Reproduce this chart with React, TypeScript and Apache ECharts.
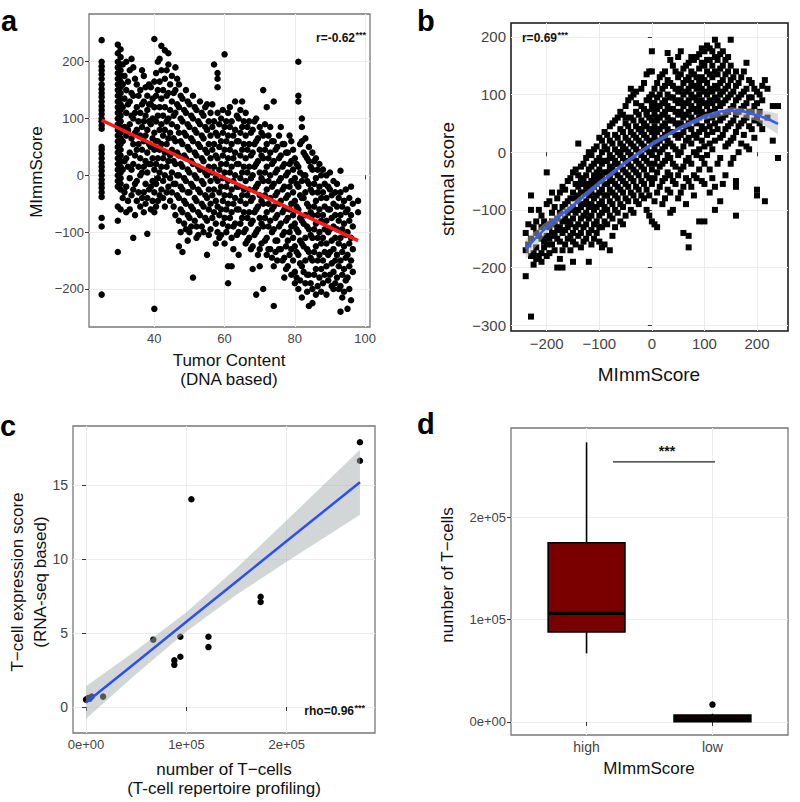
import React, { useEffect, useRef } from "react";
import * as echarts from "echarts";

// Panel a: Tumor content (x) vs MImmScore (y), grouped by x value
const panelAColumns: [number, number[]][] = [
  [25, [238, 200, 192, 185, 178, 170, 160, 152, 145, 138, 130, 122, 115, 108, 100, 95, 88, 82, 50, 45, 38, 30, 22, 15, 8, 0, -8, -15, -22, -30, -38, -75, -90, -210]],
  [29.6, [230, 215, 200, 190, 180, 170, 160, 150, 140, 130, 120, 110, 100, 90, 80, 70, 60, 50, 40, 30, 20, 10, 0, -10, -20, -55, -80, -135]],
  [30.4, [222, 208, 195, 185, 175, 165, 155, 145, 135, 125, 115, 105, 95, 85, 75, 65, 55, 45, 35, 25, 15, 5, -5, -15, -25, -60]],
  [31, [195, 160, 120, 60, 10, -40]],
  [31.5, [175, 135, 85, 25, -30]],
  [32, [200, 150, 110, 70, 30, -20, -65]],
  [32.5, [165, 125, 80, 15, -45]],
  [33, [185, 130, 90, 40, -5, -60]],
  [33.5, [205, 145, 105, 65, 10, -35]],
  [34, [190, 140, 100, 55, 20, -25, -110]],
  [34.5, [170, 110, 75, 35, -15, -70]],
  [35, [160, 120, 80, 45, -10, -45]],
  [35.5, [140, 95, 55, 15, -30]],
  [36, [150, 110, 70, 30, 0, -55]],
  [36.5, [185, 125, 85, 45, 5, -40]],
  [37, [175, 130, 95, 60, 15, -30, -65]],
  [37.5, [155, 105, 70, 25, -15, -50]],
  [38, [140, 115, 80, 40, 5, -40, -103]],
  [38.5, [160, 125, 95, 55, 20, -25]],
  [39, [155, 125, 90, 50, 20, -20, -60]],
  [39.5, [135, 100, 65, 30, -10, -45]],
  [40, [240, 165, 120, 75, 45, 10, -30, -65, -235]],
  [40.5, [180, 140, 95, 60, 20, -15, -55]],
  [41, [200, 150, 105, 60, 30, -5, -45]],
  [41.5, [205, 165, 120, 80, 45, 5, -35]],
  [42, [228, 185, 135, 90, 55, 15, -25]],
  [42.5, [150, 105, 70, 30, -10, -40]],
  [43, [220, 170, 120, 80, 40, 0, -55]],
  [43.5, [185, 140, 95, 55, 15, -30]],
  [44, [215, 195, 145, 100, 65, 25, -20]],
  [44.5, [160, 115, 75, 35, -5, -45]],
  [45, [175, 130, 90, 45, 5, -30]],
  [45.5, [145, 105, 65, 25, -15, -55]],
  [46, [190, 150, 110, 60, 20, -15, -70]],
  [46.5, [170, 125, 85, 40, 0, -35]],
  [47, [160, 120, 75, 35, 0, -40, -80, -125]],
  [47.5, [140, 100, 60, 20, -20, -60, -100]],
  [48, [135, 95, 55, 15, -25, -65, -135]],
  [48.5, [115, 75, 35, -5, -45, -85]],
  [49, [150, 110, 70, 30, -10, -50, -95]],
  [49.5, [130, 90, 50, 10, -30, -70, -115]],
  [50, [125, 85, 45, 5, -30, -75, -100]],
  [50.5, [105, 65, 25, -15, -55, -90]],
  [51, [140, 100, 60, 20, -20, -60, -180]],
  [51.5, [120, 80, 40, 0, -40, -80]],
  [52, [115, 75, 35, -5, -45, -90, -110]],
  [52.5, [95, 55, 15, -25, -65, -105]],
  [53, [130, 90, 50, 10, -30, -70]],
  [53.5, [110, 70, 30, -10, -50, -90]],
  [54, [105, 65, 25, -15, -55, -100]],
  [54.5, [120, 85, 45, 5, -35, -75]],
  [55, [125, 80, 40, 0, -40, -80, -140]],
  [55.5, [95, 55, 15, -25, -60, -105]],
  [56, [110, 70, 30, -10, -50, -95]],
  [56.5, [125, 85, 45, 5, -35, -75]],
  [57, [195, 95, 55, 15, -25, -65]],
  [57.5, [75, 35, -5, -45, -85, -120]],
  [58, [180, 170, 155, 110, 70, 30, -10, -55, -100]],
  [58.5, [90, 50, 10, -30, -70, -110]],
  [59, [100, 60, 20, -20, -60, -105]],
  [59.5, [115, 75, 35, -5, -45, -85]],
  [60, [213, 85, 45, 5, -35, -75, -120]],
  [60.5, [95, 60, 20, -20, -60, -100]],
  [61, [110, 70, 30, -10, -50, -90, -160, -190]],
  [61.5, [120, 85, 45, 5, -35, -75]],
  [62, [95, 55, 15, -25, -65, -110, -160]],
  [62.5, [70, 30, -10, -50, -90, -130]],
  [63, [130, 80, 40, 0, -40, -85]],
  [63.5, [105, 60, 20, -20, -60, -105]],
  [64, [100, 60, 20, -20, -60, -100, -140]],
  [64.5, [115, 75, 35, -5, -45, -85]],
  [65, [130, 85, 45, 5, -35, -75]],
  [65.5, [95, 55, 15, -25, -65, -100]],
  [66, [110, 70, 30, -10, -50, -95, -120]],
  [66.5, [85, 45, 5, -35, -75, -115]],
  [67, [95, 55, 15, -25, -65, -110]],
  [67.5, [75, 35, -5, -45, -85, -130]],
  [68, [80, 40, 0, -40, -80, -125, -165]],
  [68.5, [95, 55, 15, -25, -65, -105]],
  [69, [100, 60, 20, -20, -60, -100, -210]],
  [69.5, [65, 25, -15, -55, -95, -140]],
  [70, [85, 45, 5, -35, -75, -130, -160]],
  [70.5, [75, 35, -5, -45, -85, -120]],
  [71, [150, 70, 30, -10, -50, -90, -200]],
  [71.5, [90, 45, 5, -35, -75, -115]],
  [72, [120, 55, 15, -25, -65, -110, -140]],
  [72.5, [70, 30, -10, -50, -90, -130]],
  [73, [85, 40, 0, -40, -80, -130]],
  [73.5, [60, 20, -20, -60, -100, -145]],
  [74, [130, 60, 25, -15, -55, -95, -160, -230]],
  [74.5, [45, 5, -35, -75, -115, -135]],
  [75, [50, 10, -30, -70, -115, -150]],
  [75.5, [70, 30, -10, -50, -90, -130]],
  [76, [85, 35, -5, -45, -85, -130]],
  [76.5, [55, 15, -25, -65, -105, -150]],
  [77, [55, 20, -20, -60, -100, -145, -180]],
  [77.5, [40, 0, -40, -80, -125, -165]],
  [78, [40, 5, -35, -75, -115, -160]],
  [78.5, [70, 20, -20, -60, -100, -140]],
  [79, [60, 25, -10, -50, -90, -130, -175]],
  [79.5, [45, 10, -30, -70, -110, -150]],
  [80, [30, -5, -45, -85, -125, -170, -190]],
  [80.5, [20, -15, -55, -95, -135, -180]],
  [81, [200, 140, 130, 15, -20, -60, -100, -140, -200]],
  [81.5, [55, 5, -35, -75, -115, -155, -185]],
  [82, [100, 85, 60, -10, -40, -80, -120, -160, -215]],
  [82.5, [40, 0, -40, -85, -125, -170]],
  [83, [65, 35, 0, -30, -70, -110, -150, -190]],
  [83.5, [30, -10, -50, -90, -130, -175, -205]],
  [84, [50, 25, -15, -55, -95, -135, -175, -230]],
  [84.5, [15, -25, -65, -105, -145, -190]],
  [85, [40, 10, -30, -70, -110, -150, -200, -225]],
  [85.5, [25, -15, -55, -95, -135, -175]],
  [86, [30, -5, -45, -85, -125, -165, -210]],
  [86.5, [10, -30, -70, -110, -150, -195]],
  [87, [20, -20, -60, -100, -140, -180]],
  [87.5, [0, -40, -80, -120, -165, -205]],
  [88, [10, -30, -70, -110, -150, -190]],
  [88.5, [-15, -55, -95, -135, -175]],
  [89, [0, -40, -80, -120, -160, -210]],
  [89.5, [-20, -60, -100, -140, -185]],
  [90, [5, -25, -60, -95, -135, -175]],
  [90.5, [-35, -75, -115, -155, -195]],
  [91, [-10, -50, -90, -130, -170, -200]],
  [91.5, [-30, -70, -110, -150, -190]],
  [92, [-15, -55, -95, -140, -180]],
  [92.5, [-40, -80, -120, -160, -200]],
  [93, [8, -30, -70, -110, -150, -195, -240]],
  [93.5, [-55, -95, -135, -175, -215]],
  [94, [-45, -85, -125, -165, -205]],
  [94.5, [-25, -65, -105, -145, -185]],
  [95, [-60, -100, -140, -180, -235]],
  [95.5, [-40, -80, -120, -160, -200]],
  [96, [-20, -70, -110, -150, -220]],
  [96.5, [-50, -90, -130, -170]],
  [98, [-45, -65]],
];
const fitAX = [25, 98];
const fitAY = [97, -115];

// Panel b: MImmScore (x) vs stromal score (y), grouped by x value
const panelBColumns: [number, number[]][] = [
  [-240, [-140, -170, -215]],
  [-235, [-160, -125]],
  [-230, [-285, -100, -75, -180, -150]],
  [-225, [-130, -175, -195]],
  [-220, [-120, -165, -185, -140]],
  [-215, [-145, -100, -180]],
  [-210, [-110, -150, -190, -175, -130]],
  [-205, [-120, -165, -155]],
  [-200, [-35, -90, -125, -160, -145, -180]],
  [-195, [-85, -130, -150, -175]],
  [-190, [-70, -105, -140, -160, -120]],
  [-185, [-95, -125, -145, -170]],
  [-180, [-80, -115, -135, -200, -150]],
  [-175, [-70, -105, -130, -155, -185]],
  [-170, [-60, -95, -120, -140, -170, -200]],
  [-165, [-65, -90, -115, -135, -160]],
  [-160, [-50, -85, -105, -130, -150, -120]],
  [-155, [-45, -80, -100, -125, -145, -170]],
  [-150, [-35, -70, -95, -115, -140, -190, -155]],
  [-145, [-30, -55, -80, -105, -130, -160]],
  [-140, [15, -40, -60, -85, -100, -125, -145, -75]],
  [-135, [-25, -50, -70, -95, -115, -140, -165]],
  [-130, [-20, -45, -70, -90, -110, -130, -155, -55]],
  [-125, [-10, -40, -60, -85, -105, -125, -150]],
  [-120, [0, -30, -55, -75, -95, -115, -140, -190, -65]],
  [-115, [-5, -25, -50, -70, -90, -110, -135, -160]],
  [-110, [5, -20, -40, -60, -80, -100, -125, -150, -45]],
  [-105, [10, -15, -35, -55, -75, -95, -120, -140]],
  [-100, [25, -10, -30, -50, -70, -90, -110, -130, -155, -40]],
  [-95, [20, 0, -20, -45, -65, -85, -105, -130, -165]],
  [-90, [35, 10, -15, -35, -55, -75, -95, -120, -160]],
  [-85, [30, 5, -15, -35, -55, -75, -100, -125]],
  [-80, [45, 20, -5, -25, -45, -65, -85, -110, -170, -35]],
  [-75, [50, 15, -10, -30, -50, -70, -90, -115, -145]],
  [-70, [55, 30, 5, -15, -35, -55, -75, -100, -130, -20]],
  [-65, [60, 25, 0, -20, -40, -60, -80, -105]],
  [-60, [70, 40, 15, -5, -25, -45, -65, -90, -120, 0]],
  [-55, [65, 35, 10, -10, -30, -50, -70, -95, -125]],
  [-50, [80, 50, 25, 5, -15, -35, -55, -80, -110, 60]],
  [-45, [90, 45, 20, 0, -20, -40, -60, -85]],
  [-40, [95, 60, 35, 15, -5, -25, -45, -70, -100, 110]],
  [-35, [100, 55, 30, 10, -10, -30, -50, -75, -105]],
  [-30, [105, 70, 45, 25, 5, -15, -35, -60, -85, 85]],
  [-25, [65, 40, 20, 0, -20, -40, -65, -90]],
  [-20, [110, 80, 55, 35, 15, -5, -25, -50, -75, 40]],
  [-15, [120, 75, 50, 30, 10, -10, -30, -55, -80]],
  [-10, [135, 90, 65, 45, 25, 5, -15, -40, -65, -100, 70]],
  [-5, [140, 95, 60, 40, 20, 0, -20, -45, -75, -110]],
  [0, [175, 140, 100, 75, 55, 35, 15, -5, -30, -55, -120, 85]],
  [5, [110, 85, 65, 45, 25, 5, -20, -45, -85, -125]],
  [10, [120, 95, 75, 55, 35, 15, -10, -35, -70, -130, 60]],
  [15, [130, 100, 80, 60, 40, 20, 0, -25, -60]],
  [20, [135, 110, 85, 65, 45, 25, 5, -20, -50, -90]],
  [25, [140, 115, 90, 70, 50, 30, 10, -15, -45, -80]],
  [30, [172, 125, 100, 80, 60, 40, 20, -5, -35, -65]],
  [35, [160, 120, 95, 75, 55, 35, 15, -10, -40, -70, -105]],
  [40, [150, 115, 95, 75, 55, 35, 10, -20, -50, -100]],
  [45, [140, 110, 90, 70, 50, 30, 5, -25, -55]],
  [50, [165, 130, 105, 85, 65, 45, 25, -5, -40, -80]],
  [55, [175, 135, 110, 90, 70, 50, 30, 0, -30, -70]],
  [60, [145, 120, 100, 80, 60, 35, 10, -25, -60, -140]],
  [65, [150, 125, 105, 85, 65, 45, 20, -15, -45, -90]],
  [70, [155, 130, 110, 90, 70, 50, 25, -10, -50, -145, -165]],
  [75, [165, 140, 120, 100, 80, 60, 40, 15, -20, -60]],
  [80, [160, 135, 115, 95, 75, 55, 30, 0, -40, -75]],
  [85, [165, 130, 110, 90, 70, 50, 25, -5, -45]],
  [90, [170, 145, 120, 100, 80, 60, 35, 5, -30, -120]],
  [95, [180, 155, 130, 110, 90, 70, 45, 20, -10, -50]],
  [100, [175, 150, 125, 105, 85, 65, 40, 10, -20, -120, -55]],
  [105, [185, 160, 140, 120, 100, 80, 55, 30, -5]],
  [110, [180, 160, 135, 110, 90, 70, 45, 15, -30, -70]],
  [115, [175, 150, 130, 105, 85, 60, 35, 5, -45]],
  [120, [195, 165, 140, 115, 95, 75, 50, 20, -60, -100]],
  [125, [185, 160, 135, 110, 90, 65, 40, -20]],
  [130, [170, 145, 120, 100, 80, 55, 25, -10, -85]],
  [135, [175, 150, 125, 105, 85, 60, 30, -55]],
  [140, [160, 135, 110, 90, 65, 40, 10, -40]],
  [145, [165, 140, 115, 95, 70, 45, 15]],
  [150, [195, 150, 125, 100, 75, 50, 20, -20]],
  [155, [130, 105, 80, 55, 25, -10]],
  [160, [140, 115, 90, 65, 35, -50, -60, -110]],
  [165, [120, 95, 70, 45, 0]],
  [170, [130, 100, 75, 50, 15]],
  [175, [140, 105, 80, 55, 30]],
  [180, [155, 110, 85, 60, 10]],
  [185, [125, 95, 70, 45, 5]],
  [190, [120, 95, 70, 40]],
  [195, [110, 80, 55, 25]],
  [200, [105, 85, 60, -65, -75]],
  [205, [100, 70, 50]],
  [210, [115, 90, 40]],
  [215, [125, -85]],
  [220, [110, 60]],
  [230, [80, 20]],
  [240, [80, -10]],
];
const fitBX = [-240, -200, -150, -100, -50, 0, 50, 100, 150, 200, 240];
const fitBY = [-168, -130, -92, -54, -18, 14, 40, 61, 72, 64, 49];
const fitBHalf = [18, 10, 6, 5, 4, 4, 4, 5, 6, 10, 18];

// Panel c: number of T-cells vs T-cell expression score
const tcellCount = [0, 2300, 5600, 3500, 17000, 67000, 88000, 88000, 94000, 94000, 105000, 122000, 122000, 174000, 174000, 273000, 273000];
const tcellScore = [0.5, 0.6, 0.7, 0.55, 0.7, 4.55, 3.15, 2.85, 4.75, 3.4, 14.05, 4.75, 4.05, 7.45, 7.1, 17.9, 16.65];
const fitCX = [0, 50000, 100000, 150000, 200000, 273000];
const fitCY = [0.3, 3.03, 5.76, 8.49, 11.22, 15.2];
const fitCHalf = [1.1, 0.8, 0.65, 0.9, 1.4, 2.2];

// Panel d: boxplot of number of T-cells by MImmScore group
const boxCategories = ["high", "low"];
const boxStats = [
  [67000, 88000, 106000, 175000, 273000],
  [0, 400, 2000, 6800, 8000],
];
const boxOutliers = [[2, 17000]];
const sigBracket = [[1.21, 254000], [2.02, 254000]];

const FONT = "Liberation Sans, Arial, Helvetica, sans-serif";

const fmtMinus = (v: number) => (v < 0 ? "\u2212" + Math.abs(v) : String(v));
const sciLabel = (v: number) => {
  if (v === 0) return "0e+00";
  if (v === 100000) return "1e+05";
  if (v === 200000) return "2e+05";
  return String(v);
};

function flatten(cols: [number, number[]][]) {
  const out: number[][] = [];
  cols.forEach(([x, ys]) => ys.forEach((y) => out.push([x, y])));
  return out;
}

function bandSeries(xs: number[], ys: number[], half: number[], idx: number, fill: string, opacity: number) {
  return {
    type: "custom",
    xAxisIndex: idx,
    yAxisIndex: idx,
    silent: true,
    z: 3,
    clip: true,
    data: [[xs[0], ys[0]]],
    encode: { x: 0, y: 1 },
    renderItem: (_p: any, api: any) => {
      const upper = xs.map((x, i) => api.coord([x, ys[i] + half[i]]));
      const lower = xs.map((x, i) => api.coord([x, ys[i] - half[i]])).reverse();
      return {
        type: "polygon",
        shape: { points: upper.concat(lower) },
        style: { fill, opacity },
      };
    },
  };
}

function valueAxis(opts: any) {
  const { min, max, ticks, formatter, fontSize, gridIndex } = opts;
  return {
    type: "value",
    gridIndex,
    min,
    max,
    axisLine: { show: false },
    axisTick: { show: true, length: 4, customValues: ticks, lineStyle: { color: "#333", width: 1 } },
    axisLabel: {
      customValues: ticks,
      formatter,
      fontSize,
      color: "#444",
      fontFamily: FONT,
      margin: 5,
    },
    splitLine: { show: true, lineStyle: { color: "#ececec", width: 1 } },
  };
}

const title = (text: string, x: number, y: number, size: number, rotate = false) => ({
  type: "text",
  x,
  y,
  rotation: rotate ? Math.PI / 2 : 0,
  silent: true,
  style: {
    text,
    fontSize: size,
    fontFamily: FONT,
    fill: "#111",
    textAlign: "center",
    textVerticalAlign: "middle",
  },
});

const letter = (text: string, x: number, y: number) => ({
  type: "text",
  x,
  y,
  silent: true,
  style: {
    text,
    fontSize: 29,
    fontWeight: "bold",
    fontFamily: FONT,
    fill: "#000",
    textAlign: "left",
    textVerticalAlign: "middle",
  },
});

// annotation: main text right-aligned at x, stars start at x
const annot = (main: string, x: number, y: number) => [
  {
    type: "text",
    x,
    y,
    silent: true,
    z: 100,
    style: { text: main, fontSize: 12, fontWeight: "bold", fontFamily: FONT, fill: "#111", textAlign: "right", textVerticalAlign: "middle" },
  },
  {
    type: "text",
    x: x + 0.5,
    y: y - 3,
    silent: true,
    z: 100,
    style: { text: "***", fontSize: 9, fontWeight: "bold", fontFamily: FONT, fill: "#111", textAlign: "left", textVerticalAlign: "middle" },
  },
];

export default function App() {
  const ref = useRef<HTMLDivElement>(null);

  useEffect(() => {
    if (!ref.current) return;
    const chart = echarts.init(ref.current, undefined, { renderer: "svg" });

    const gridStyle = (left: number, top: number, width: number, height: number, border: string, bw: number) => ({
      left,
      top,
      width,
      height,
      show: true,
      borderColor: border,
      borderWidth: bw,
      backgroundColor: "#fff",
      containLabel: false,
    });

    const option: any = {
      animation: false,
      backgroundColor: "#fff",
      grid: [
        gridStyle(89, 14, 281, 313, "#777", 1.3),
        gridStyle(511, 23, 277, 308, "#111", 1.5),
        gridStyle(73, 426, 302, 307, "#777", 1.3),
        gridStyle(511, 428, 277, 307, "#777", 1.3),
      ],
      xAxis: [
        valueAxis({ gridIndex: 0, min: 21.4, max: 101.4, ticks: [40, 60, 80, 100], formatter: fmtMinus, fontSize: 13 }),
        valueAxis({ gridIndex: 1, min: -268, max: 259, ticks: [-200, -100, 0, 100, 200], formatter: fmtMinus, fontSize: 15 }),
        valueAxis({ gridIndex: 2, min: -13000, max: 288000, ticks: [0, 100000, 200000], formatter: sciLabel, fontSize: 13 }),
        valueAxis({
          gridIndex: 3,
          min: 0.4,
          max: 2.6,
          ticks: [1, 2],
          formatter: (v: number) => boxCategories[Math.round(v) - 1] || "",
          fontSize: 14,
        }),
      ],
      yAxis: [
        valueAxis({ gridIndex: 0, min: -267, max: 284, ticks: [-200, -100, 0, 100, 200], formatter: fmtMinus, fontSize: 13 }),
        valueAxis({ gridIndex: 1, min: -310, max: 224, ticks: [-300, -200, -100, 0, 100, 200], formatter: fmtMinus, fontSize: 15 }),
        valueAxis({ gridIndex: 2, min: -1.76, max: 19.0, ticks: [0, 5, 10, 15], formatter: (v: number) => String(v), fontSize: 14 }),
        valueAxis({ gridIndex: 3, min: -12700, max: 287000, ticks: [0, 100000, 200000], formatter: sciLabel, fontSize: 13 }),
      ],
      series: [
        {
          type: "scatter",
          xAxisIndex: 0,
          yAxisIndex: 0,
          data: flatten(panelAColumns),
          symbol: "circle",
          symbolSize: 6.5,
          itemStyle: { color: "#000", opacity: 1 },
          silent: true,
          z: 2,
        },
        {
          type: "line",
          xAxisIndex: 0,
          yAxisIndex: 0,
          data: fitAX.map((x, i) => [x, fitAY[i]]),
          showSymbol: false,
          lineStyle: { color: "#ff1a1a", width: 3.5 },
          silent: true,
          z: 4,
        },
        {
          type: "scatter",
          xAxisIndex: 1,
          yAxisIndex: 1,
          data: flatten(panelBColumns),
          symbol: "rect",
          symbolSize: 6,
          itemStyle: { color: "#000", opacity: 1 },
          silent: true,
          z: 2,
        },
        bandSeries(fitBX, fitBY, fitBHalf, 1, "#b8b8b8", 0.5),
        {
          type: "line",
          xAxisIndex: 1,
          yAxisIndex: 1,
          data: fitBX.map((x, i) => [x, fitBY[i]]),
          smooth: true,
          showSymbol: false,
          lineStyle: { color: "#3a5cf0", width: 2.5 },
          silent: true,
          z: 4,
        },
        {
          type: "scatter",
          xAxisIndex: 2,
          yAxisIndex: 2,
          data: tcellCount.map((x, i) => [x, tcellScore[i]]),
          symbol: "circle",
          symbolSize: 6.5,
          itemStyle: { color: "#000", opacity: 1 },
          silent: true,
          z: 2,
        },
        bandSeries(fitCX, fitCY, fitCHalf, 2, "#a8aeb0", 0.5),
        {
          type: "line",
          xAxisIndex: 2,
          yAxisIndex: 2,
          data: fitCX.map((x, i) => [x, fitCY[i]]),
          showSymbol: false,
          lineStyle: { color: "#2b4ff0", width: 2.5 },
          silent: true,
          z: 4,
        },
        {
          type: "custom",
          xAxisIndex: 3,
          yAxisIndex: 3,
          silent: true,
          z: 3,
          data: boxStats.map((s, i) => [i + 1, ...s]),
          encode: { x: 0, y: [1, 2, 3, 4, 5] },
          renderItem: (_p: any, api: any) => {
            const x = api.value(0);
            const lo = api.coord([x, api.value(1)]);
            const q1 = api.coord([x, api.value(2)]);
            const med = api.coord([x, api.value(3)]);
            const q3 = api.coord([x, api.value(4)]);
            const hi = api.coord([x, api.value(5)]);
            const bw = api.size([1, 0])[0] * 0.61;
            const h = bw / 2;
            const boxH = Math.max(q1[1] - q3[1], 1);
            const ls = { stroke: "#000", lineWidth: 1.6 };
            return {
              type: "group",
              children: [
                { type: "line", shape: { x1: hi[0], y1: hi[1], x2: q3[0], y2: q3[1] }, style: ls },
                { type: "line", shape: { x1: q1[0], y1: q1[1], x2: lo[0], y2: lo[1] }, style: ls },
                {
                  type: "rect",
                  shape: { x: q3[0] - h, y: q3[1], width: bw, height: boxH },
                  style: { fill: boxH < 12 ? "#140000" : "#7a0000", stroke: "#000", lineWidth: 1.6 },
                },
                { type: "line", shape: { x1: med[0] - h, y1: med[1], x2: med[0] + h, y2: med[1] }, style: { stroke: "#000", lineWidth: 3.2 } },
              ],
            };
          },
        },
        {
          type: "scatter",
          xAxisIndex: 3,
          yAxisIndex: 3,
          data: boxOutliers,
          symbol: "circle",
          symbolSize: 6.5,
          itemStyle: { color: "#000", opacity: 1 },
          silent: true,
          z: 4,
        },
        {
          type: "line",
          xAxisIndex: 3,
          yAxisIndex: 3,
          data: sigBracket,
          showSymbol: false,
          lineStyle: { color: "#222", width: 1.3 },
          silent: true,
          z: 4,
        },
      ],
      graphic: [
        letter("a", 1, 21),
        letter("b", 417, 21),
        letter("c", 0, 426),
        letter("d", 417, 424),
        // panel a titles
        title("Tumor Content", 229, 360, 17),
        title("(DNA based)", 229, 379, 17),
        title("MImmScore", 36, 172, 17, true),
        ...annot("r=-0.62", 355, 38),
        // panel b titles
        title("MImmScore", 649, 374, 19),
        title("stromal score", 447, 179, 19, true),
        ...annot("r=0.69", 557, 38),
        // panel c titles
        title("number of T\u2212cells", 224, 769, 17),
        title("(T-cell repertoire profiling)", 224, 788, 17),
        title("T\u2212cell expression score", 17, 582, 17, true),
        title("(RNA-seq based)", 40, 582, 17, true),
        ...annot("rho=0.96", 354, 711),
        // panel d titles
        title("number of T\u2212cells", 447, 575, 17, true),
        title("MImmScore", 649, 768, 17),
        {
          type: "text",
          x: 667,
          y: 451,
          silent: true,
          style: { text: "***", fontSize: 14, fontWeight: "bold", fontFamily: FONT, fill: "#111", textAlign: "center", textVerticalAlign: "middle" },
        },
      ],
    };

    chart.setOption(option);
    return () => chart.dispose();
  }, []);

  return (
    <div
      ref={ref}
      style={{ position: "fixed", left: 0, top: 0, width: 800, height: 802, background: "#fff" }}
    />
  );
}
